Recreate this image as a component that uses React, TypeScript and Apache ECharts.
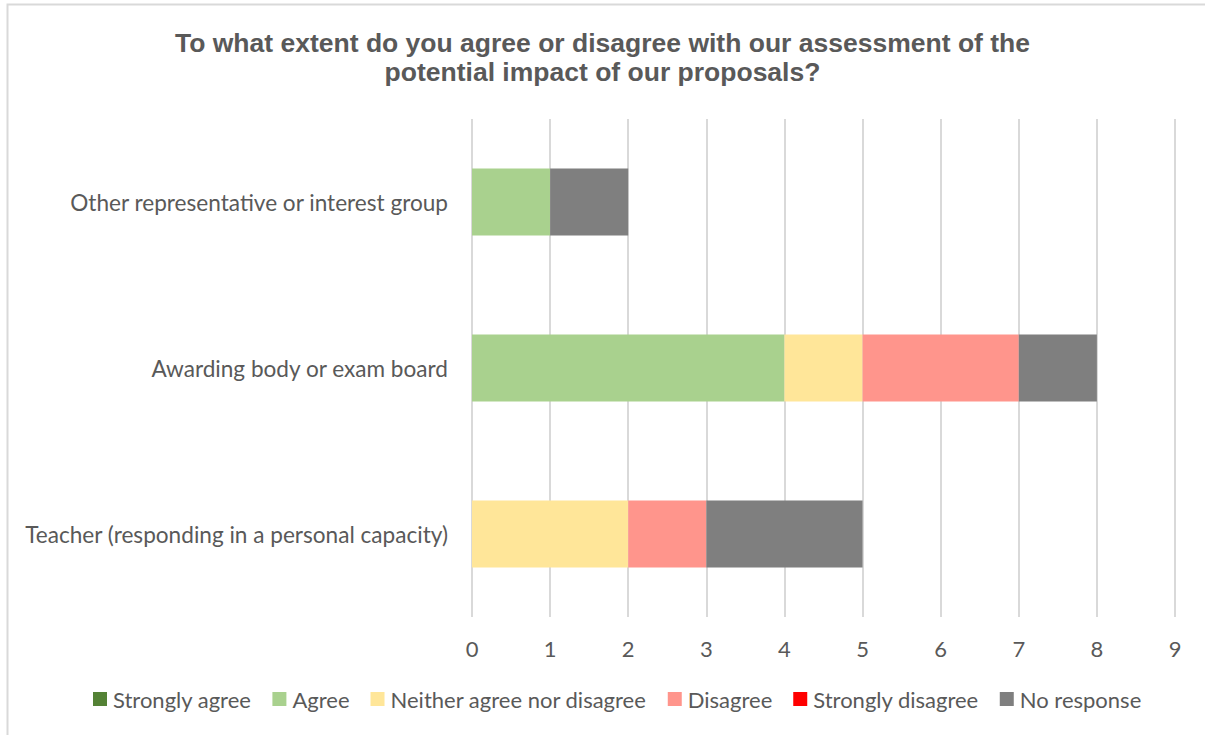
import React, { useEffect, useRef } from "react";
import * as echarts from "echarts";

const categories = [
  "Teacher (responding in a personal capacity)",
  "Awarding body or exam board",
  "Other representative or interest group",
];
const seriesNames = [
  "Strongly agree",
  "Agree",
  "Neither agree nor disagree",
  "Disagree",
  "Strongly disagree",
  "No response",
];
const stronglyAgree = [0, 0, 0];
const agree = [0, 4, 1];
const neither = [2, 1, 0];
const disagree = [1, 2, 0];
const stronglyDisagree = [0, 0, 0];
const noResponse = [2, 1, 1];
const seriesColors = ["#548235", "#A9D18E", "#FFE699", "#FF958C", "#FF0000", "#7F7F7F"];
const titleText =
  "To what extent do you agree or disagree with our assessment of the\npotential impact of our proposals?";

export default function App() {
  const ref = useRef<HTMLDivElement>(null);
  useEffect(() => {
    if (!ref.current) return;
    const chart = echarts.init(ref.current, null, { renderer: "svg" });
    const values = [stronglyAgree, agree, neither, disagree, stronglyDisagree, noResponse];
    const font = "Lato, 'Open Sans', sans-serif";
    chart.setOption({
      animation: false,
      backgroundColor: "#ffffff",
      graphic: [
        {
          type: "rect",
          shape: { x: 7.5, y: 4.5, width: 1400, height: 1000 },
          style: { fill: "none", stroke: "#d9d9d9", lineWidth: 2 },
          silent: true,
          z: -1,
        },
      ],
      title: {
        text: titleText,
        left: "center",
        top: 23,
        textStyle: {
          fontFamily: "'Liberation Sans', Arial, sans-serif",
          fontWeight: "bold",
          fontSize: 26.5,
          color: "#595959",
          lineHeight: 29,
        },
      },
      legend: {
        bottom: 20,
        left: 88,
        itemWidth: 14,
        itemHeight: 14,
        itemGap: 21,
        icon: "rect",
        textStyle: { fontFamily: font, fontSize: 22, color: "#595959", padding: [0, 0, 0, 1] },
        data: seriesNames,
      },
      grid: { left: 472, right: 30, top: 119, bottom: 118, containLabel: false },
      xAxis: {
        type: "value",
        min: 0,
        max: 9,
        interval: 1,
        axisLine: { show: false },
        axisTick: { show: false },
        splitLine: { show: true, lineStyle: { color: "#d9d9d9", width: 2 } },
        axisLabel: { fontFamily: font, fontSize: 22, color: "#595959", margin: 20 },
      },
      yAxis: {
        type: "category",
        data: categories,
        axisLine: { show: false },
        axisTick: { show: false },
        axisLabel: { fontFamily: font, fontSize: 22.6, color: "#595959", margin: 24 },
      },
      series: seriesNames.map((name, i) => ({
        name,
        type: "bar",
        stack: "total",
        barWidth: "40.5%",
        data: values[i],
        itemStyle: { color: seriesColors[i] },
      })),
    });
    return () => chart.dispose();
  }, []);
  return (
    <div
      ref={ref}
      style={{ position: "absolute", left: 0, top: 0, width: 1205, height: 735 }}
    />
  );
}
